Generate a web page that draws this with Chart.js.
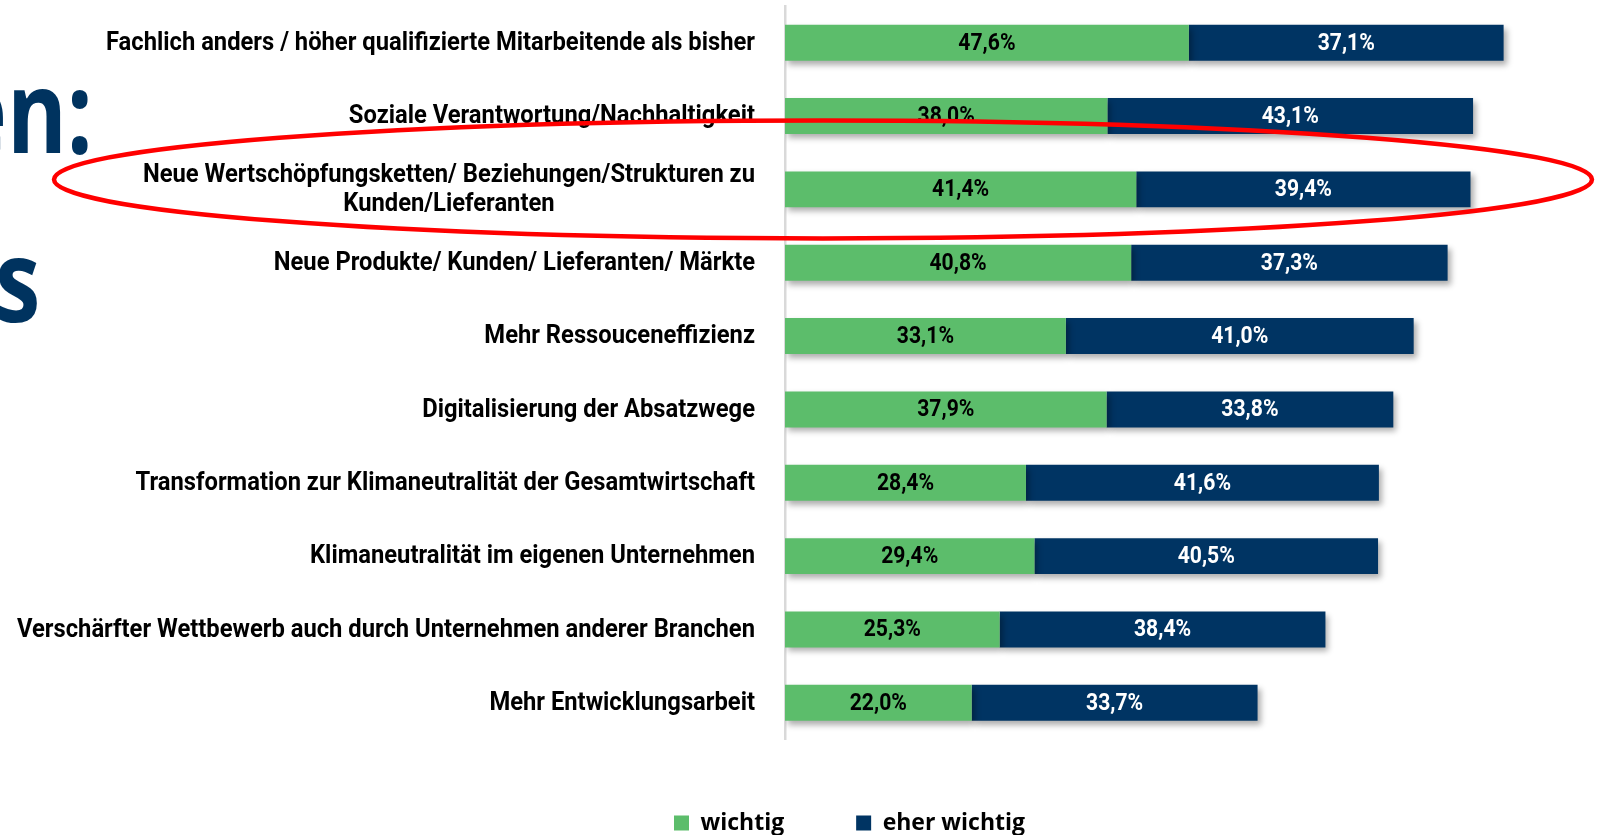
<!DOCTYPE html>
<html lang="de">
<head>
<meta charset="utf-8">
<title>Wichtige Themen</title>
<script src="https://cdn.jsdelivr.net/npm/chart.js@4.4.1/dist/chart.umd.min.js"></script>
<style>
  html, body { margin: 0; padding: 0; background: #fff; overflow: hidden; }
  #wrap { position: relative; width: 1603px; height: 835px; }
  .titelrest {
    position: absolute;
    font-family: "Open Sans", sans-serif;
    font-weight: 700;
    font-size: 114px;
    line-height: 114px;
    color: #00335f;
    transform: scaleX(0.8);
    transform-origin: left top;
    white-space: nowrap;
  }
  canvas { position: absolute; left: 0; top: 0; }
</style>
</head>
<body>
<div id="wrap">
  <div class="titelrest" style="left:-47px; top:52px;">en:</div>
  <div class="titelrest" style="left:-5px; top:221px;">s</div>
  <canvas id="chartThemen" width="1603" height="835"></canvas>
</div>
<script>
// daten
const kategorien = [
  "Fachlich anders / höher qualifizierte Mitarbeitende als bisher",
  "Soziale Verantwortung/Nachhaltigkeit",
  ["Neue Wertschöpfungsketten/ Beziehungen/Strukturen zu", "Kunden/Lieferanten"],
  "Neue Produkte/ Kunden/ Lieferanten/ Märkte",
  "Mehr Ressouceneffizienz",
  "Digitalisierung der Absatzwege",
  "Transformation zur Klimaneutralität der Gesamtwirtschaft",
  "Klimaneutralität im eigenen Unternehmen",
  "Verschärfter Wettbewerb auch durch Unternehmen anderer Branchen",
  "Mehr Entwicklungsarbeit",
];
const wichtig = [47.6, 38.0, 41.4, 40.8, 33.1, 37.9, 28.4, 29.4, 25.3, 22.0];
const eherWichtig = [37.1, 43.1, 39.4, 37.3, 41.0, 33.8, 41.6, 40.5, 38.4, 33.7];
const serienNamen = ["wichtig", "eher wichtig"];
const markierteKategorie = 2;

const farbeGruen = "#5cbd6b";
const farbeBlau = "#003463";

function formatProzent(v) {
  return v.toFixed(1).replace(".", ",") + "%";
}

// schatten unter den balken
const balkenSchatten = {
  id: "balkenSchatten",
  beforeDatasetDraw(chart) {
    const ctx = chart.ctx;
    ctx.save();
    ctx.shadowColor = "rgba(0, 0, 0, 0.32)";
    ctx.shadowBlur = 6;
    ctx.shadowOffsetX = 3;
    ctx.shadowOffsetY = 4;
  },
  afterDatasetDraw(chart) {
    chart.ctx.restore();
  },
};

// kategorie-texte links und werte in den balken
const beschriftung = {
  id: "beschriftung",
  afterDatasetsDraw(chart) {
    const ctx = chart.ctx;
    const yScale = chart.scales.y;
    const rechts = chart.chartArea.left - 30;

    ctx.save();
    ctx.font = "bold 25px Roboto";
    ctx.fillStyle = "#000";
    ctx.textBaseline = "middle";

    // laengste zeile auf die breite im original bringen
    const laengste = kategorien[8];
    const sx = 738 / ctx.measureText(laengste).width;

    kategorien.forEach(function (label, i) {
      const y = yScale.getPixelForValue(i);
      const zeilen = Array.isArray(label) ? label : [label];
      let block = 0;
      zeilen.forEach(function (z) {
        block = Math.max(block, ctx.measureText(z).width * sx);
      });
      const zeilenHoehe = 29;
      const y0 = y - ((zeilen.length - 1) * zeilenHoehe) / 2;
      zeilen.forEach(function (z, k) {
        ctx.save();
        ctx.translate(rechts - block / 2, y0 + k * zeilenHoehe + 1);
        ctx.scale(sx, 1);
        ctx.textAlign = "center";
        ctx.fillText(z, 0, 0);
        ctx.restore();
      });
    });

    ctx.font = "bold 24px Roboto";
    ctx.textAlign = "center";
    chart.data.datasets.forEach(function (ds, di) {
      const meta = chart.getDatasetMeta(di);
      meta.data.forEach(function (bar, i) {
        const mitte = (bar.x + bar.base) / 2;
        ctx.save();
        ctx.translate(mitte, bar.y + 1);
        ctx.scale(0.88, 1);
        ctx.fillStyle = di === 0 ? "#000" : "#fff";
        ctx.fillText(formatProzent(ds.data[i]), 0, 0);
        ctx.restore();
      });
    });
    ctx.restore();
  },
};

// rote ellipse um die markierte kategorie
const ellipse = {
  id: "ellipse",
  afterDraw(chart) {
    const ctx = chart.ctx;
    const cy = chart.scales.y.getPixelForValue(markierteKategorie) - 10;
    const cx = chart.chartArea.left + 38;
    ctx.save();
    ctx.beginPath();
    ctx.ellipse(cx, cy, 769, 59, 0, 0, Math.PI * 2);
    ctx.strokeStyle = "#ff0000";
    ctx.lineWidth = 4.5;
    ctx.stroke();
    ctx.restore();
  },
};

// legende etwas nach rechts wie im original
const legendeVerschieben = {
  id: "legendeVerschieben",
  afterLayout(chart) {
    const lg = chart.legend;
    if (!lg || !lg.lineWidths) return;
    const pad = lg.options.labels.padding;
    const start = (lg.left + pad + lg.right - lg.lineWidths[0]) / 2;
    const d = 674 - start;
    lg.left += d;
    lg.right += d;
  },
};

new Chart(document.getElementById("chartThemen"), {
  type: "bar",
  data: {
    labels: kategorien,
    datasets: [
      {
        label: serienNamen[0],
        data: wichtig,
        backgroundColor: farbeGruen,
        borderWidth: 0,
        barPercentage: 0.49,
        categoryPercentage: 1,
      },
      {
        label: serienNamen[1],
        data: eherWichtig,
        backgroundColor: farbeBlau,
        borderWidth: 0,
        barPercentage: 0.49,
        categoryPercentage: 1,
      },
    ],
  },
  options: {
    indexAxis: "y",
    responsive: false,
    animation: false,
    layout: {
      padding: { top: 6, right: 12, bottom: -9.5, left: 0 },
    },
    plugins: {
      tooltip: { enabled: false },
      legend: {
        position: "bottom",
        labels: {
          boxWidth: 15,
          boxHeight: 15,
          padding: 72,
          color: "#000",
          font: { family: "'Open Sans'", size: 23, weight: "bold" },
        },
      },
    },
    scales: {
      x: {
        stacked: true,
        display: false,
        min: 0,
        max: 95,
      },
      y: {
        stacked: true,
        grid: { display: false, drawTicks: false },
        ticks: { display: false },
        border: { display: true, color: "#d9d9d9", width: 2.5 },
        afterFit: function (scale) {
          scale.width = 785;
        },
      },
    },
  },
  plugins: [balkenSchatten, beschriftung, ellipse, legendeVerschieben],
});
</script>
</body>
</html>
